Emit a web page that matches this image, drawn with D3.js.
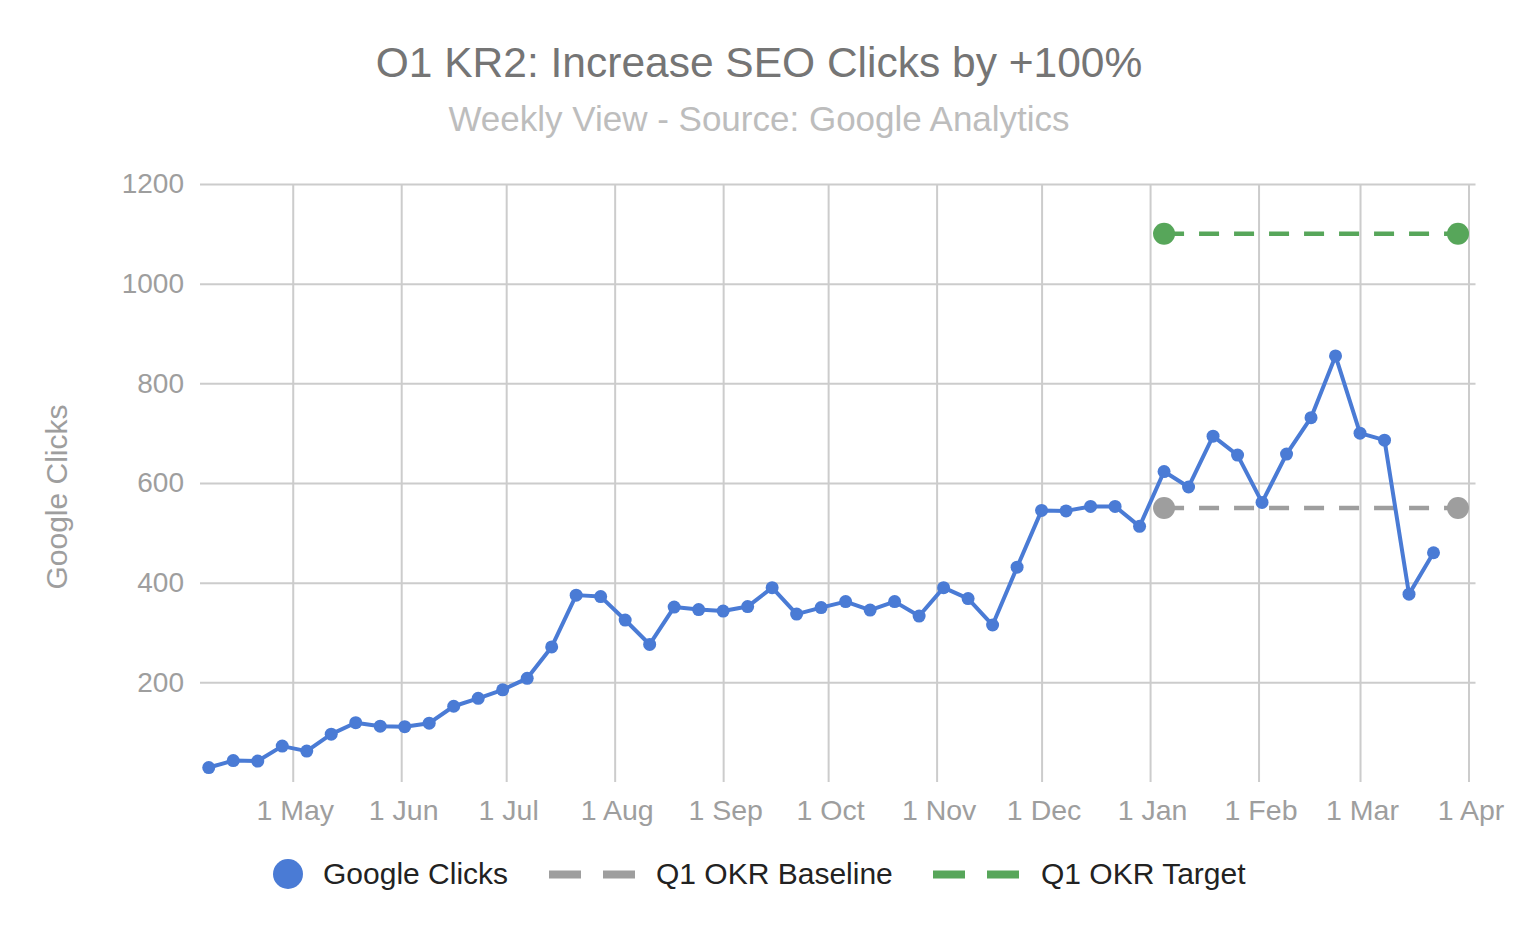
<!DOCTYPE html>
<html>
<head>
<meta charset="utf-8">
<script src="https://cdn.jsdelivr.net/npm/d3@7"></script>
<style>
  html, body { margin: 0; padding: 0; background: #fff; }
  svg { display: block; font-family: "Liberation Sans", Arial, Helvetica, sans-serif; }
</style>
</head>
<body>
<svg id="chart" width="1518" height="932"></svg>
<script>
// ---- data ----
const weekDates = [
  "2019-04-07","2019-04-14","2019-04-21","2019-04-28","2019-05-05","2019-05-12","2019-05-19","2019-05-26",
  "2019-06-02","2019-06-09","2019-06-16","2019-06-23","2019-06-30","2019-07-07","2019-07-14","2019-07-21",
  "2019-07-28","2019-08-04","2019-08-11","2019-08-18","2019-08-25","2019-09-01","2019-09-08","2019-09-15",
  "2019-09-22","2019-09-29","2019-10-06","2019-10-13","2019-10-20","2019-10-27","2019-11-03","2019-11-10",
  "2019-11-17","2019-11-24","2019-12-01","2019-12-08","2019-12-15","2019-12-22","2019-12-29","2020-01-05",
  "2020-01-12","2020-01-19","2020-01-26","2020-02-02","2020-02-09","2020-02-16","2020-02-23","2020-03-01",
  "2020-03-08","2020-03-15","2020-03-22"
];
const googleClicks = [
  29, 43, 42, 72, 62, 96, 119, 112, 111, 118, 152, 168, 185, 208, 271, 375,
  372, 325, 276, 351, 346, 343, 352, 390, 337, 350, 362, 345, 362, 333, 390, 368,
  315, 431, 545, 544, 553, 553, 513, 623, 592, 694, 656, 561, 658, 731, 855, 700,
  686, 377, 460
];
const okrDates = ["2020-01-05", "2020-03-29"];
const okrBaseline = [550, 550];
const okrTarget = [1100, 1100];
const yTickValues = [200, 400, 600, 800, 1000, 1200];
const xTickDates = ["2019-05-01","2019-06-01","2019-07-01","2019-08-01","2019-09-01","2019-10-01",
                    "2019-11-01","2019-12-01","2020-01-01","2020-02-01","2020-03-01","2020-04-01"];
const xDomain = ["2019-04-04T12:00:00Z", "2020-04-03T00:00:00Z"];
const yDomain = [0, 1200];

const titleText = "O1 KR2: Increase SEO Clicks by +100%";
const subtitleText = "Weekly View - Source: Google Analytics";
const yAxisTitle = "Google Clicks";
const seriesNames = ["Google Clicks", "Q1 OKR Baseline", "Q1 OKR Target"];
const colors = { clicks: "#4a7bd5", baseline: "#9e9e9e", target: "#57a65a" };

// ---- layout ----
const FONT = "'Liberation Sans', Arial, Helvetica, sans-serif";
const plot = { left: 200, right: 1475.5, top: 184, bottom: 782 };
const parse = s => new Date(s.length > 10 ? s : s + "T00:00:00Z");

const x = d3.scaleUtc().domain(xDomain.map(parse)).range([plot.left, plot.right]);
const y = d3.scaleLinear().domain(yDomain).range([plot.bottom, plot.top]);

const svg = d3.select("#chart");

// title
svg.append("text").attr("x", 759).attr("y", 77).attr("text-anchor", "middle")
  .attr("font-size", 42.5).attr("fill", "#757575").text(titleText);
svg.append("text").attr("x", 759).attr("y", 131).attr("text-anchor", "middle")
  .attr("font-size", 35).attr("fill", "#bdbdbd").text(subtitleText);

// horizontal grid
const yAxis = d3.axisLeft(y).tickValues(yTickValues).tickFormat(d3.format("d"))
  .tickSize(-(plot.right - plot.left)).tickPadding(16);
const gy = svg.append("g").attr("transform", `translate(${plot.left},0)`).call(yAxis);
gy.select(".domain").remove();
gy.selectAll(".tick line").attr("stroke", "#cccccc").attr("stroke-width", 2);
gy.selectAll(".tick text").attr("font-size", 28).attr("fill", "#9e9e9e").attr("font-family", FONT);

// vertical grid + x labels
const xAxis = d3.axisBottom(x).tickValues(xTickDates.map(parse))
  .tickFormat(d3.utcFormat("%-d %b")).tickSize(-(plot.bottom - plot.top)).tickPadding(18);
const gx = svg.append("g").attr("transform", `translate(0,${plot.bottom})`).call(xAxis);
gx.select(".domain").remove();
gx.selectAll(".tick line").attr("stroke", "#cccccc").attr("stroke-width", 2);
gx.selectAll(".tick text").attr("font-size", 28.5).attr("fill", "#9e9e9e").attr("font-family", FONT)
  .attr("dx", 2);

// y axis title
svg.append("text").attr("transform", "translate(67,497) rotate(-90)").attr("text-anchor", "middle")
  .attr("font-size", 30).attr("fill", "#9e9e9e").text(yAxisTitle);

// okr lines
const line = d3.line().x(d => x(d.date)).y(d => y(d.v));
function drawOkr(values, color) {
  const pts = okrDates.map((d, i) => ({ date: parse(d), v: values[i] }));
  svg.append("path").datum(pts).attr("d", line).attr("fill", "none")
    .attr("stroke", color).attr("stroke-width", 4.5).attr("stroke-dasharray", "20,15");
  svg.selectAll(null).data(pts).enter().append("circle")
    .attr("cx", d => x(d.date)).attr("cy", d => y(d.v)).attr("r", 11).attr("fill", color);
}
drawOkr(okrBaseline, colors.baseline);
drawOkr(okrTarget, colors.target);

// clicks
const clickPts = weekDates.map((d, i) => ({ date: parse(d), v: googleClicks[i] }));
svg.append("path").datum(clickPts).attr("d", line).attr("fill", "none")
  .attr("stroke", colors.clicks).attr("stroke-width", 4).attr("stroke-linejoin", "round");
svg.selectAll(null).data(clickPts).enter().append("circle")
  .attr("cx", d => x(d.date)).attr("cy", d => y(d.v)).attr("r", 6.5).attr("fill", colors.clicks);

// legend
const lg = svg.append("g");
lg.append("circle").attr("cx", 288).attr("cy", 874).attr("r", 15).attr("fill", colors.clicks);
lg.append("text").attr("x", 323).attr("y", 884).attr("font-size", 30).attr("fill", "#222").text(seriesNames[0]);
lg.append("line").attr("x1", 549).attr("x2", 636).attr("y1", 874.5).attr("y2", 874.5)
  .attr("stroke", colors.baseline).attr("stroke-width", 8).attr("stroke-dasharray", "32,22");
lg.append("text").attr("x", 656).attr("y", 884).attr("font-size", 30).attr("fill", "#222").text(seriesNames[1]);
lg.append("line").attr("x1", 933).attr("x2", 1020).attr("y1", 874.5).attr("y2", 874.5)
  .attr("stroke", colors.target).attr("stroke-width", 8).attr("stroke-dasharray", "32,22");
lg.append("text").attr("x", 1041).attr("y", 884).attr("font-size", 30).attr("fill", "#222").text(seriesNames[2]);
</script>
</body>
</html>
